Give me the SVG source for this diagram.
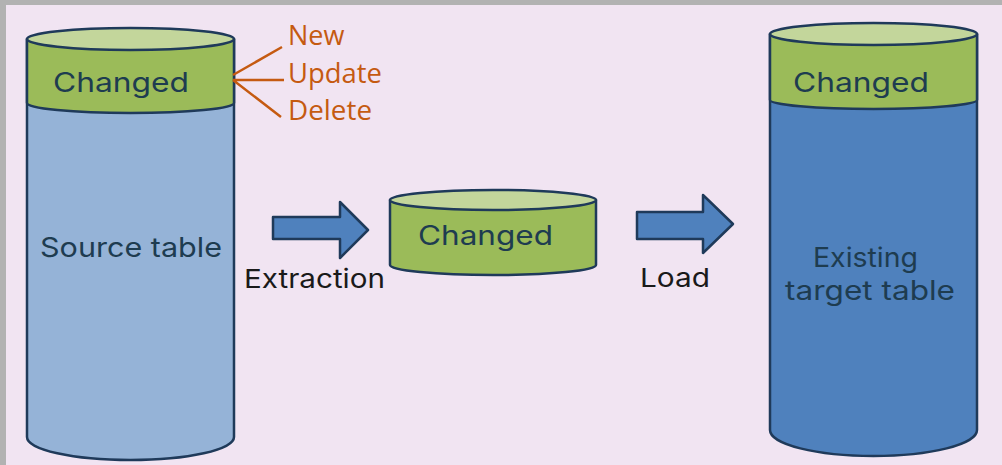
<svg xmlns="http://www.w3.org/2000/svg" width="1002" height="465" viewBox="0 0 1002 465">
<style>
.ln{stroke:#1f3a5a;stroke-width:2.5;stroke-linejoin:round}
.lbl{font-family:Inter,"Noto Sans","Liberation Sans",sans-serif;fill:#1e3c50;font-size:27px}
.blk{font-family:Inter,"Noto Sans","Liberation Sans",sans-serif;fill:#1a1a1a;font-size:26px}
.or{font-family:"Open Sans","Liberation Sans",sans-serif;fill:#c55a11;font-size:27px}
</style>
<rect x="0" y="0" width="1002" height="465" fill="#b2b2b2"/>
<rect x="6" y="5" width="996" height="460" fill="#f1e4f2"/>

<g id="source-table">
<path class="ln" d="M27,39 V437 A103.5,23 0 0 0 234,437 V39 Z" fill="#95b3d7"/>
<path class="ln" d="M27,39 V103 A103.5,10 0 0 0 234,103 V39 Z" fill="#9bbb59"/>
<ellipse class="ln" cx="130.5" cy="39" rx="103.5" ry="11" fill="#c3d69b"/>
<text class="lbl" x="121" y="92" text-anchor="middle" textLength="136" lengthAdjust="spacingAndGlyphs">Changed</text>
<text class="lbl" x="131" y="257" text-anchor="middle" textLength="182" lengthAdjust="spacingAndGlyphs">Source table</text>
</g>

<g id="change-types">
<path d="M233,75 L282,47 M233,80 L284,80 M233,80 L281,117" stroke="#c55a11" stroke-width="2.5" fill="none"/>
<text class="or" x="288" y="45">New</text>
<text class="or" x="288" y="83" textLength="94" lengthAdjust="spacingAndGlyphs">Update</text>
<text class="or" x="288" y="120" textLength="84" lengthAdjust="spacingAndGlyphs">Delete</text>
</g>

<g id="changed-staging">
<path class="ln" d="M390,200 V265 A103,10 0 0 0 596,265 V200 Z" fill="#9bbb59"/>
<ellipse class="ln" cx="493" cy="200" rx="103" ry="10" fill="#c3d69b"/>
<text class="lbl" x="485.5" y="245" text-anchor="middle" textLength="135" lengthAdjust="spacingAndGlyphs">Changed</text>
</g>

<g id="target-table">
<path class="ln" d="M770,34 V430 A103.5,26 0 0 0 977,430 V34 Z" fill="#4f81bd"/>
<path class="ln" d="M770,34 V100 A103.5,9 0 0 0 977,100 V34 Z" fill="#9bbb59"/>
<ellipse class="ln" cx="873.5" cy="34" rx="103.5" ry="11" fill="#c3d69b"/>
<text class="lbl" x="861" y="92" text-anchor="middle" textLength="136" lengthAdjust="spacingAndGlyphs">Changed</text>
<text class="lbl" x="865.5" y="267" text-anchor="middle" textLength="105" lengthAdjust="spacingAndGlyphs">Existing</text>
<text class="lbl" x="870" y="300" text-anchor="middle" textLength="170" lengthAdjust="spacingAndGlyphs">target table</text>
</g>

<g id="connectors">
<path class="ln" d="M273,217 H340 V202 L368,230 L340,258 V239 H273 Z" fill="#4f81bd"/>
<text class="blk" x="244" y="288" textLength="141" lengthAdjust="spacingAndGlyphs">Extraction</text>
<path class="ln" d="M637,212 H703 V195 L733,224 L703,253 V239 H637 Z" fill="#4f81bd"/>
<text class="blk" x="640" y="287" textLength="70" lengthAdjust="spacingAndGlyphs">Load</text>
</g>
</svg>
